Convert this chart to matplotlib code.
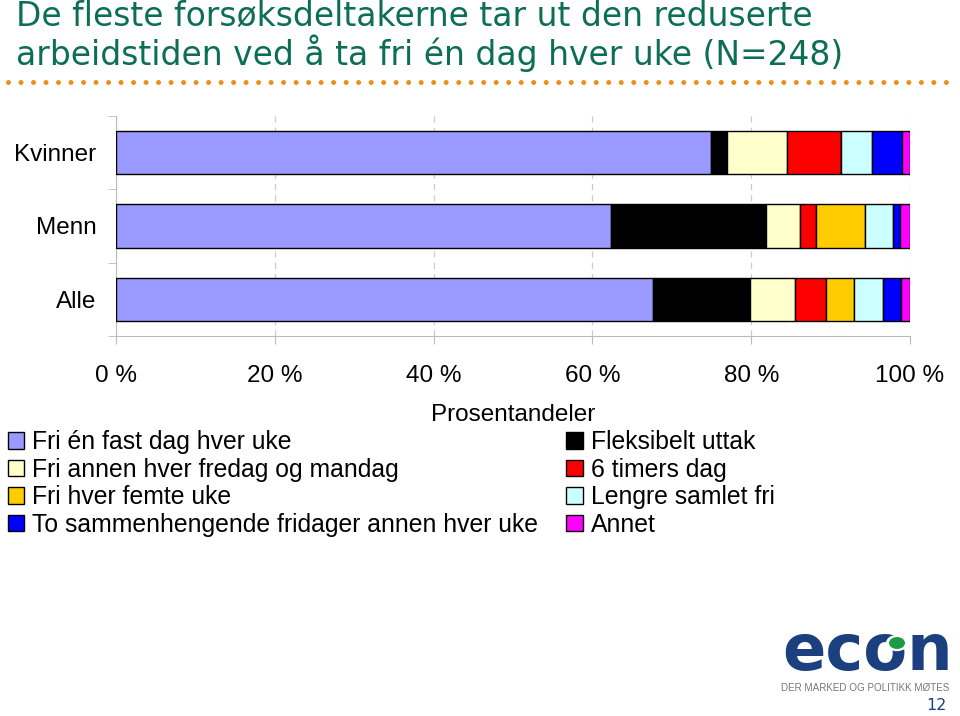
import matplotlib.pyplot as plt
from matplotlib.patches import Patch, Circle
from matplotlib.lines import Line2D

plt.rcParams["font.family"] = ["Liberation Sans", "DejaVu Sans"]

kategorier = ["Kvinner", "Menn", "Alle"]
serier = [
    "Fri én fast dag hver uke",
    "Fleksibelt uttak",
    "Fri annen hver fredag og mandag",
    "6 timers dag",
    "Fri hver femte uke",
    "Lengre samlet fri",
    "To sammenhengende fridager annen hver uke",
    "Annet",
]
farger = ["#9999FF", "#000000", "#FFFFCC", "#FF0000", "#FFCC00", "#CCFFFF", "#0000FF", "#FF00FF"]

# prosentandeler per kategori (Kvinner, Menn, Alle)
fri_en_dag = [74.9, 62.4, 67.6]
fleksibelt = [2.1, 19.5, 12.2]
annen_fredag = [7.5, 4.2, 5.7]
seks_timer = [6.8, 2.1, 3.9]
femte_uke = [0.0, 6.1, 3.6]
lengre_fri = [3.9, 3.5, 3.6]
to_fridager = [3.8, 0.9, 2.3]
annet = [1.0, 1.3, 1.1]
verdier = [fri_en_dag, fleksibelt, annen_fredag, seks_timer, femte_uke, lengre_fri, to_fridager, annet]

xticks = [0, 20, 40, 60, 80, 100]
xtick_labels = ["0 %", "20 %", "40 %", "60 %", "80 %", "100 %"]

W, H = 960, 716
FS = 17.5
fig = plt.figure(figsize=(9.6, 7.16), dpi=100)
ax = fig.add_axes([116 / W, 1 - 336 / H, 794 / W, 220 / H])

ypos = [2, 1, 0]
venstre = [0.0, 0.0, 0.0]
for navn, farge, vals in zip(serier, farger, verdier):
    ax.barh(ypos, vals, left=venstre, height=0.59, color=farge,
            edgecolor="black", linewidth=1, label=navn, zorder=3)
    venstre = [a + b for a, b in zip(venstre, vals)]

ax.set_xlim(0, 100)
ax.set_ylim(-0.5, 2.5)
ax.set_xticks(xticks)
ax.set_xticklabels(xtick_labels, fontsize=FS)
ax.set_yticks(ypos)
ax.set_yticklabels(kategorier, fontsize=FS)
ax.set_yticks([-0.5, 0.5, 1.5, 2.5], minor=True)
ax.tick_params(axis="y", which="major", length=0, pad=14)
ax.tick_params(axis="y", which="minor", length=6, color="#BBBBBB", direction="out")
ax.tick_params(axis="x", length=6, color="#BBBBBB", direction="out", pad=15)
ax.grid(axis="x", linestyle=(0, (5, 4)), color="#CCCCCC", linewidth=0.9, zorder=0)
for s in ["top", "right"]:
    ax.spines[s].set_visible(False)
for s in ["left", "bottom"]:
    ax.spines[s].set_color("#BBBBBB")
ax.set_xlabel("Prosentandeler", fontsize=FS, labelpad=12)

# legend, Excel-rekkefolge (radvis)
rekkefolge = [0, 2, 4, 6, 1, 3, 5, 7]
handles = [Patch(facecolor=farger[i], edgecolor="black", linewidth=1) for i in rekkefolge]
labels = [serier[i] for i in rekkefolge]
fig.legend(handles, labels, loc="upper left", bbox_to_anchor=(8 / W, 1 - 430 / H),
           ncol=2, frameon=False, fontsize=17.8, handlelength=0.66, handleheight=0.66,
           handletextpad=0.32, labelspacing=0.145, columnspacing=1.14, borderpad=0,
           borderaxespad=0)

# tittel og prikklinje
fig.text(16 / W, 1 - 26 / H, "De fleste forsøksdeltakerne tar ut den reduserte",
         fontsize=23.7, color="#0C6E55", family="DejaVu Sans", va="baseline", ha="left")
fig.text(16 / W, 1 - 65 / H, "arbeidstiden ved å ta fri én dag hver uke (N=248)",
         fontsize=23.7, color="#0C6E55", family="DejaVu Sans", va="baseline", ha="left")
fig.add_artist(Line2D([8 / W, 955 / W], [1 - 82 / H, 1 - 82 / H], transform=fig.transFigure,
                      color="#E8901A", linewidth=3.6, linestyle=(0, (0.001, 2.5)),
                      dash_capstyle="round"))

# logo
fig.text(782 / W, 1 - 670 / H, "econ", fontsize=46, fontweight="bold", color="#1B3F7F",
         family="DejaVu Sans", ha="left", va="baseline")
fig.add_artist(Circle((897 / W, 1 - 643 / H), 11 / W, transform=fig.transFigure,
                      facecolor="white", edgecolor="none", zorder=5))
fig.add_artist(Circle((897 / W, 1 - 643 / H), 8 / W, transform=fig.transFigure,
                      facecolor="#1E9A45", edgecolor="none", zorder=6))
fig.text(865 / W, 1 - 688 / H, "DER MARKED OG POLITIKK MØTES", fontsize=7.1, color="#777777",
         ha="center", va="center")
fig.text(947 / W, 1 - 706 / H, "12", fontsize=11.5, color="#1B3F7F", family="DejaVu Sans",
         ha="right", va="center")

fig.savefig("out.png", dpi=100)
